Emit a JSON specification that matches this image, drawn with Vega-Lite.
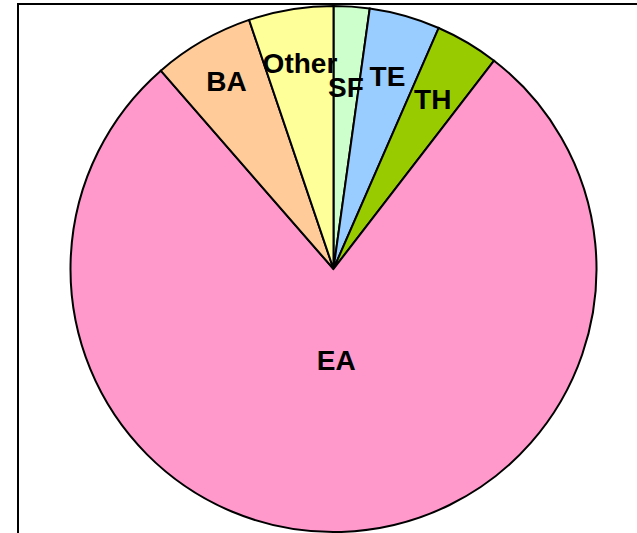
{
  "$schema": "https://vega.github.io/schema/vega-lite/v6.json",
  "autosize": {"type": "none"},
  "padding": {"left": 18, "top": 4, "right": 0, "bottom": 0},
  "width": 631,
  "height": 530,
  "background": "white",
  "config": {"view": {"stroke": null}},
  "data": {
    "values": [
      {"idx": 1, "category": "SF", "share": 2.2},
      {"idx": 2, "category": "TE", "share": 4.35},
      {"idx": 3, "category": "TH", "share": 3.9},
      {"idx": 4, "category": "EA", "share": 78.15},
      {"idx": 5, "category": "BA", "share": 6.2},
      {"idx": 6, "category": "Other", "share": 5.2}
    ]
  },
  "layer": [
    {
      "data": {"values": [{"frame": 1}]},
      "mark": {"type": "rect", "fill": null, "stroke": "black", "strokeWidth": 2},
      "encoding": {
        "x": {"value": 0},
        "x2": {"value": "width"},
        "y": {"value": 0},
        "y2": {"value": "height"}
      }
    },
    {
      "mark": {"type": "arc", "radius": 263, "stroke": "black", "strokeWidth": 2},
      "encoding": {
        "theta": {"field": "share", "type": "quantitative", "stack": true},
        "order": {"field": "idx", "type": "quantitative"},
        "color": {
          "field": "category",
          "type": "nominal",
          "scale": {
            "domain": ["SF", "TE", "TH", "EA", "BA", "Other"],
            "range": ["#CCFFCC", "#99CCFF", "#99CC00", "#FF99CC", "#FFCC99", "#FFFF99"]
          },
          "legend": null
        }
      }
    },
    {
      "mark": {"type": "text", "font": "Liberation Sans", "fontWeight": "bold", "fontSize": 28, "color": "black"},
      "encoding": {
        "theta": {"field": "share", "type": "quantitative", "stack": true},
        "order": {"field": "idx", "type": "quantitative"},
        "text": {"field": "category", "type": "nominal"},
        "radius": {
          "field": "share",
          "type": "quantitative",
          "scale": {"type": "linear", "zero": false, "domain": [2.2, 6.2, 78.15], "range": [180, 215, 93]}
        }
      }
    }
  ]
}
